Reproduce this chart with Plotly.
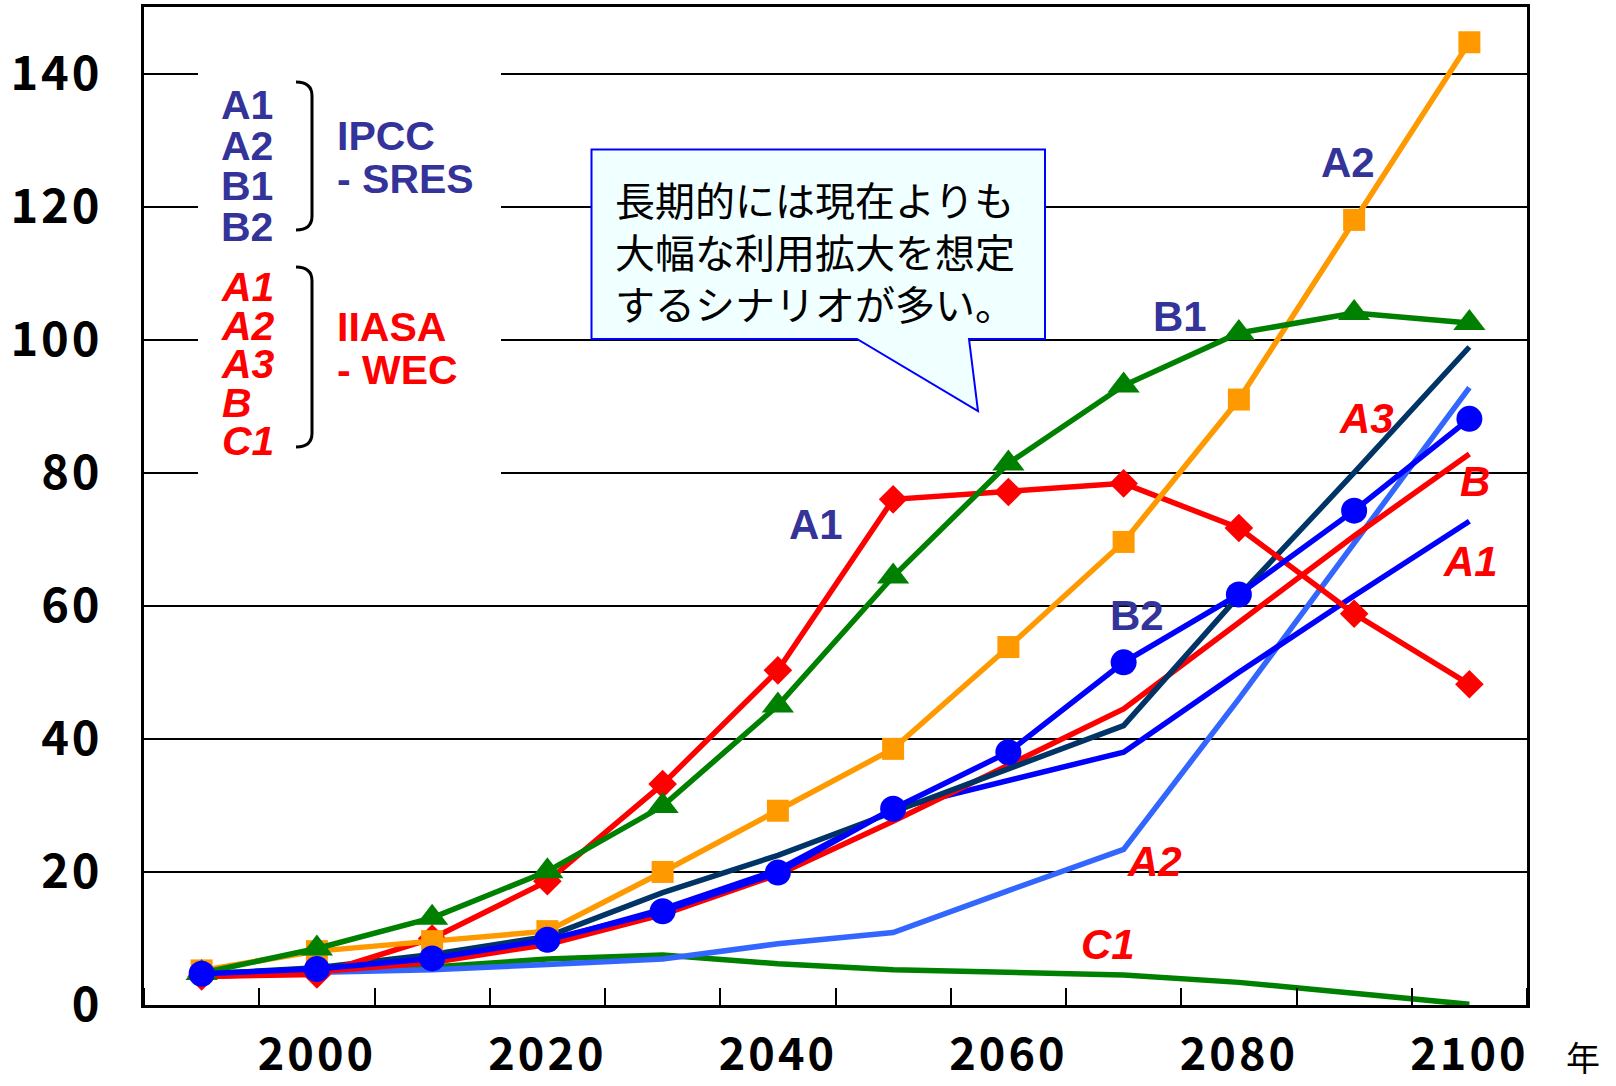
import plotly.graph_objects as go

# ---------------- data ----------------
years = [1990, 2000, 2010, 2020, 2030, 2040, 2050, 2060, 2070, 2080, 2090, 2100]

# IPCC - SRES
ipcc_a1 = [4.3, 4.6, 10.0, 18.6, 33.2, 50.3, 76.0, 77.1, 78.4, 71.7, 58.8, 48.2]
ipcc_a2 = [5.2, 8.1, 9.6, 11.1, 20.0, 29.2, 38.5, 53.8, 69.6, 91.0, 118.0, 144.7]
ipcc_b1 = [4.8, 8.5, 13.1, 20.1, 29.9, 45.0, 64.4, 81.4, 93.1, 101.0, 104.0, 102.5]
ipcc_b2 = [4.7, 5.4, 7.0, 9.8, 14.1, 19.9, 29.5, 38.0, 51.5, 61.7, 74.3, 88.1]

# IIASA - WEC
iiasa_a1 = [4.6, 5.3, 6.6, 9.6, 14.4, 20.3, 29.5, 33.8, 38.0, 50.0, 61.5, 72.7]
iiasa_a2 = [4.5, 5.0, 5.3, 6.1, 6.9, 9.2, 10.9, 17.2, 23.4, 46.0, 69.5, 92.8]
iiasa_a3 = [4.6, 5.6, 7.6, 10.3, 16.9, 22.5, 29.0, 35.5, 42.0, 61.5, 80.0, 98.9]
iiasa_b = [4.2, 5.0, 6.4, 9.1, 13.6, 19.6, 27.6, 36.0, 44.5, 57.5, 70.5, 82.8]
iiasa_c1 = [4.8, 5.1, 5.7, 6.9, 7.5, 6.2, 5.3, 4.9, 4.5, 3.4, 1.8, 0.1]

y_ticks = [0, 20, 40, 60, 80, 100, 120, 140]
x_ticks = [2000, 2020, 2040, 2060, 2080, 2100]

ipcc_labels = ["A1", "A2", "B1", "B2"]
iiasa_labels = ["A1", "A2", "A3", "B", "C1"]
callout_lines = ["長期的には現在よりも", "大幅な利用拡大を想定", "するシナリオが多い。"]

# ---------------- layout geometry ----------------
W, H = 1616, 1086
ML, MR, MT, MB = 144, 89, 7, 81
XR = [1985, 2105]
YR = [0, 150]
PW = W - ML - MR
PH = H - MT - MB


def X(px):
    return XR[0] + (px - ML) / PW * (XR[1] - XR[0])


def Y(py):
    return YR[0] + (H - MB - py) / PH * (YR[1] - YR[0])


BLUE_T = "#333399"
RED = "#FF0000"
GREEN = "#008000"
ORANGE = "#FF9900"
BLUE = "#0000FF"
LBLUE = "#3366FF"
NAVY = "#003366"
LW = 5.5

fig = go.Figure()


def line(y, color, marker=None, msize=0):
    kw = dict(x=years, y=y, mode="lines", line=dict(color=color, width=LW),
              showlegend=False, hoverinfo="skip")
    if marker:
        kw["mode"] = "lines+markers"
        kw["marker"] = dict(symbol=marker, size=msize, color=color,
                            line=dict(width=0))
    fig.add_trace(go.Scatter(**kw))


line(iiasa_c1, GREEN)
line(iiasa_a2, LBLUE)
line(iiasa_a1, BLUE)
line(iiasa_b, RED)
line(iiasa_a3, NAVY)
line(ipcc_a1, RED, "diamond", 22)
line(ipcc_a2, ORANGE, "square", 22)
line(ipcc_b1, GREEN, "triangle-up", 28)
line(ipcc_b2, BLUE, "circle", 26)

YFONT = dict(family="Noto Sans CJK JP", size=47, color="black", weight="bold")
XFONT = dict(family="Noto Sans CJK JP", size=45, color="black", weight="bold")


def spaced(v):
    return "<span style='letter-spacing:3px'>%s</span>" % v


fig.update_layout(
    width=W, height=H,
    margin=dict(l=ML, r=MR, t=MT, b=MB, pad=0),
    paper_bgcolor="white", plot_bgcolor="white",
    xaxis=dict(
        range=XR, tickmode="array", tickvals=x_ticks,
        ticktext=[spaced(v) for v in x_ticks], ticks="",
        tickfont=XFONT, ticklabelstandoff=8, automargin=False,
        showgrid=False, zeroline=False,
        showline=True, linecolor="black", linewidth=3, mirror=True,
        minor=dict(tickmode="linear", tick0=1995, dtick=10, ticks="inside",
                   ticklen=17, tickwidth=2, tickcolor="black", showgrid=False),
    ),
    yaxis=dict(
        range=YR, tickmode="array", tickvals=y_ticks,
        ticktext=[spaced(v) for v in y_ticks],
        ticks="inside", ticklen=16, tickwidth=2, tickcolor="black",
        tickfont=YFONT, ticklabelstandoff=29, automargin=False,
        showgrid=True, gridcolor="black", gridwidth=2, zeroline=False,
        showline=True, linecolor="black", linewidth=3, mirror=True,
    ),
)

shapes = []
# white box behind the legend text
shapes.append(dict(type="rect", xref="x", yref="y", layer="between",
                   x0=X(198), x1=X(501), y0=Y(40), y1=Y(500),
                   fillcolor="white", line=dict(width=0)))


def bracket(top, bot, xl=296, xr=312, r=14):
    return ("M {a},{b} Q {c},{b} {c},{d} L {c},{e} Q {c},{f} {a},{f}".format(
        a=X(xl), b=Y(top), c=X(xr), d=Y(top + r), e=Y(bot - r), f=Y(bot)))


for top, bot in [(82, 230), (267, 447)]:
    shapes.append(dict(type="path", xref="x", yref="y", layer="above",
                       path=bracket(top, bot), line=dict(color="black", width=3)))

# speech bubble
bl, bt, br, bb = 591.5, 149.5, 1045, 339
p1, p2, tip = 857, 969, (978, 411)
bubble = "M {},{} L {},{} L {},{} L {},{} L {},{} L {},{} L {},{} Z".format(
    X(bl), Y(bt), X(br), Y(bt), X(br), Y(bb), X(p2), Y(bb),
    X(tip[0]), Y(tip[1]), X(p1), Y(bb), X(bl), Y(bb))
shapes.append(dict(type="path", xref="x", yref="y", layer="above", path=bubble,
                   fillcolor="#F0FFFF", line=dict(color="#0000FF", width=2)))
fig.update_layout(shapes=shapes)

ann = []


def block(lines, px, py, color, spacing, size=41, italic=False, xanchor="left"):
    # several lines in one text; the outer font size sets the line spacing
    inner = []
    for s in lines:
        t = "<span style='font-size:%dpx'><b>%s</b></span>" % (size, s)
        if italic:
            t = "<i>" + t + "</i>"
        inner.append(t)
    ann.append(dict(text="<br>".join(inner), x=X(px), y=Y(py), xref="x", yref="y",
                    xanchor=xanchor, yanchor="middle", align="left",
                    showarrow=False,
                    font=dict(family="Liberation Sans", size=spacing / 1.3,
                              color=color)))


def txt(text, px, py, color, size=42, italic=False):
    t = "<b>" + text + "</b>"
    if italic:
        t = "<i>" + t + "</i>"
    ann.append(dict(text=t, x=X(px), y=Y(py), xref="x", yref="y",
                    xanchor="center", yanchor="middle", showarrow=False,
                    font=dict(family="Liberation Sans", size=size, color=color)))


# legend block
block(ipcc_labels, 219, 166, BLUE_T, 40.5)
block(["IPCC", "- SRES"], 335, 157.5, BLUE_T, 43)
block(iiasa_labels, 219, 364, RED, 38.5, italic=True)
block(["IIASA", "- WEC"], 335, 348.5, RED, 43)

# series labels
txt("A1", 816, 524, BLUE_T)
txt("A2", 1348, 162, BLUE_T)
txt("B1", 1180, 316, BLUE_T)
txt("B2", 1137, 615, BLUE_T)
txt("A3", 1366, 418, RED, italic=True)
txt("B", 1475, 481, RED, italic=True)
txt("A1", 1470, 561, RED, italic=True)
txt("A2", 1154, 861, RED, italic=True)
txt("C1", 1108, 944, RED, italic=True)

# callout text
ann.append(dict(text="<br>".join(callout_lines), x=X(613), y=Y(251),
                xref="x", yref="y", xanchor="left", yanchor="middle",
                align="left", showarrow=False,
                font=dict(family="Noto Sans CJK JP", size=40, color="black")))

# unit (paper coordinates, outside the plot area)
ann.append(dict(text="年", x=(1583 - ML) / PW, y=(H - MB - 1056) / PH,
                xref="paper", yref="paper",
                xanchor="center", yanchor="middle", showarrow=False,
                font=dict(family="Noto Sans CJK JP", size=34, color="black")))

fig.update_layout(annotations=ann)
fig.write_html("out.html")
